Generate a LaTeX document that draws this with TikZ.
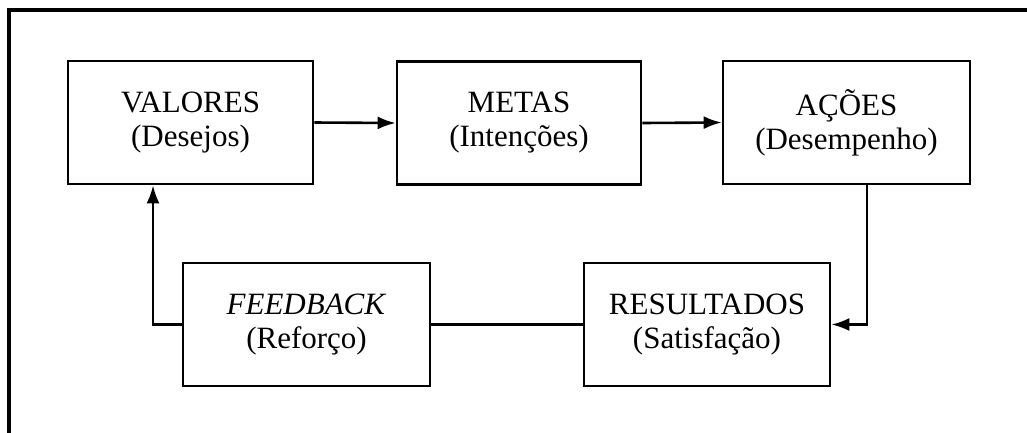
\documentclass[tikz,border=0pt]{standalone}
\usepackage{fontspec}
\setmainfont{Liberation Serif}
\usetikzlibrary{arrows.meta}
\begin{document}
\begin{tikzpicture}[x=1pt,y=-1pt,
  box/.style={draw, line width=2.6pt, rectangle, minimum height=123pt, inner sep=0pt,
    align=center, font=\fontsize{31}{34}\selectfont},
  conn/.style={line width=2.6pt},
  arr/.style={conn, -{Latex[length=18pt,width=13pt]}}]
\useasboundingbox (0,0) rectangle (1027,432);
\fill[white] (0,0) rectangle (1027,432);
\draw[line width=3.2pt] (9,440) -- (9,10) -- (1035,10);
\node[box, minimum width=245pt] (valores) at (190.5,122.5) {VALORES\\(Desejos)};
\node[box, minimum width=244pt] (metas) at (519,123) {METAS\\(Intenções)};
\node[box, minimum width=247pt] (acoes) at (846.5,122.5) {AÇÕES\\(Desempenho)};
\node[box, minimum width=247pt] (feedback) at (306.5,324.5) {\textit{FEEDBACK}\\(Reforço)};
\node[box, minimum width=246pt] (resultados) at (707,324.5) {RESULTADOS\\(Satisfação)};
\coordinate (c1) at (867,0);
\coordinate (c2) at (153,0);
\draw[arr] (valores.east) -- (metas.west);
\draw[arr] (metas.east) -- (acoes.west);
\draw[arr] (c1 |- acoes.south) |- (resultados.east);
\draw[conn] (resultados.west) -- (feedback.east);
\draw[arr] (feedback.west) -| (c2 |- valores.south);
\end{tikzpicture}
\end{document}
